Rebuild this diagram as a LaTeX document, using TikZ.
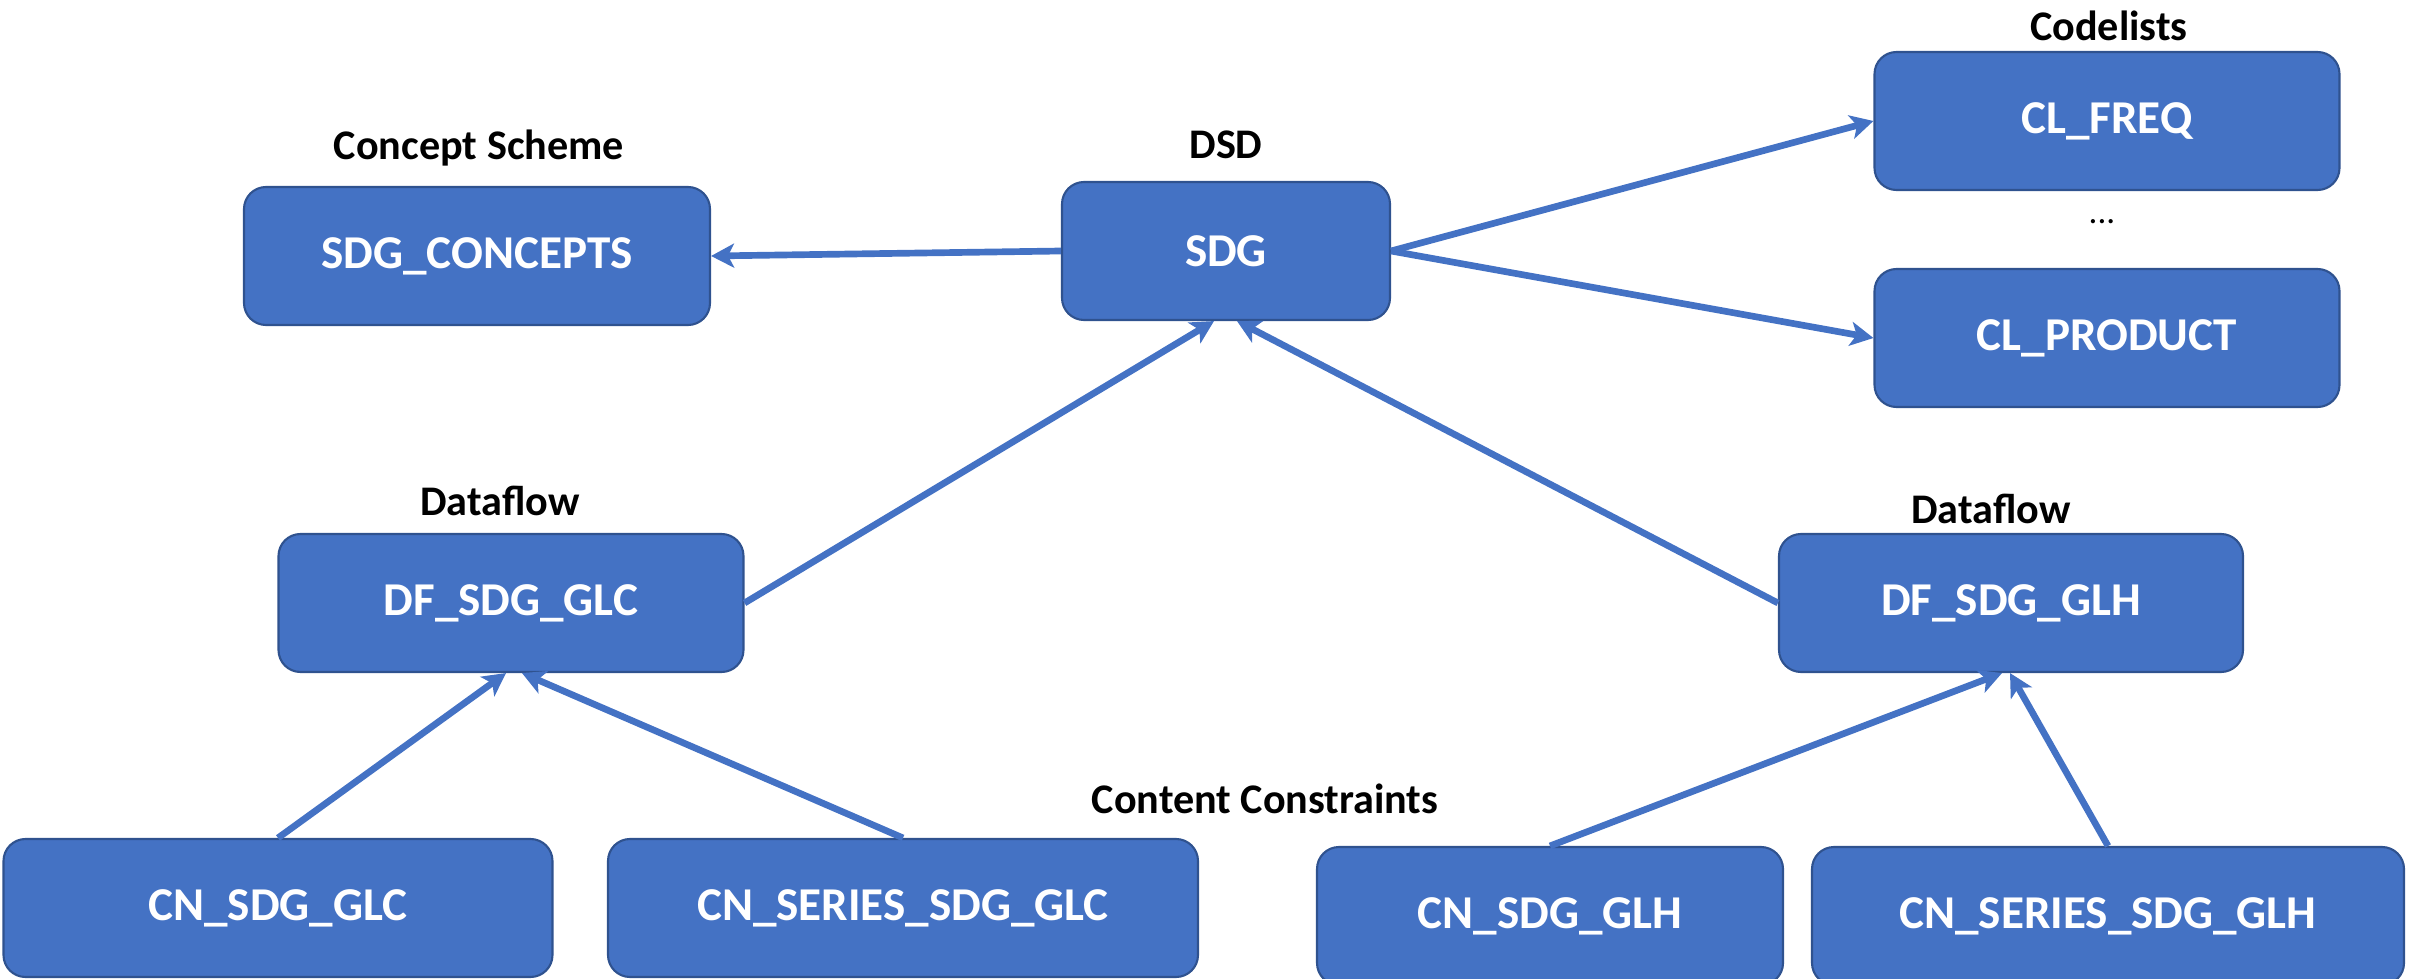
\documentclass[tikz,border=0pt]{standalone}
\usepackage{fontspec}
\setmainfont{Carlito}
\usetikzlibrary{arrows.meta,positioning}
\definecolor{boxfill}{HTML}{4472C4}
\definecolor{boxline}{HTML}{2F528F}
\tikzset{
  box/.style={draw=boxline, line width=0.6pt, fill=boxfill, rounded corners=0.22cm,
    text=white, font=\fontsize{13.4}{16}\selectfont\bfseries, minimum height=1.38cm, inner sep=0pt},
  lbl/.style={font=\fontsize{12}{14}\selectfont\bfseries, text=black, inner sep=0pt},
  conn/.style={draw=boxfill, line width=1.9pt, -{Stealth[length=0.23cm, width=0.24cm, inset=0.06cm]}},
}
\begin{document}
\begin{tikzpicture}
\useasboundingbox (0,0) rectangle (24.1,-9.79);
% boxes
\node[box, minimum width=4.66cm] (concepts) at (4.77,-2.56) {SDG\_CONCEPTS};
\node[box, minimum width=3.28cm] (sdg) at (12.26,-2.51) {SDG};
\node[box, minimum width=4.65cm] (clfreq) at (21.07,-1.21) {CL\_FREQ};
\node[box, minimum width=4.65cm] (clprod) at (21.07,-3.38) {CL\_PRODUCT};
\node[box, minimum width=4.65cm] (dfglc) at (5.11,-6.03) {DF\_SDG\_GLC};
\node[box, minimum width=4.64cm] (dfglh) at (20.11,-6.03) {DF\_SDG\_GLH};
\node[box, minimum width=5.49cm] (cnglc) at (2.78,-9.08) {CN\_SDG\_GLC};
\node[box, minimum width=5.90cm] (cnsglc) at (9.03,-9.08) {CN\_SERIES\_SDG\_GLC};
\node[box, minimum width=4.66cm] (cnglh) at (15.50,-9.16) {CN\_SDG\_GLH};
\node[box, minimum width=5.92cm] (cnsglh) at (21.08,-9.16) {CN\_SERIES\_SDG\_GLH};
% labels
\node[lbl] (lcs) at (4.79,-1.48) {Concept Scheme};
\node[lbl] (ldsd) at (12.26,-1.45) {DSD};
\node[lbl] (lcl) at (21.09,-0.26) {Codelists};
\node[font=\fontsize{10}{12}\selectfont, inner sep=0pt] (ldots) at (21.02,-2.22) {...};
\node[lbl] (ldf1) at (5.00,-5.01) {Dataflow};
\node[lbl] (ldf2) at (19.91,-5.09) {Dataflow};
\node[lbl] (lcc) at (12.65,-7.99) {Content Constraints};
% connectors
\draw[conn] (sdg.west) -- (concepts.east);
\draw[conn] (sdg.east) -- (clfreq.west);
\draw[conn] (sdg.east) -- (clprod.west);
\draw[conn] (dfglc.east) -- ([xshift=-0.12cm]sdg.south);
\draw[conn] (dfglh.west) -- ([xshift=0.11cm]sdg.south);
\draw[conn] (cnglc.north) -- ([xshift=-0.05cm]dfglc.south);
\draw[conn] (cnsglc.north) -- ([xshift=0.11cm]dfglc.south);
\draw[conn] (cnglh.north) -- ([xshift=-0.09cm]dfglh.south);
\draw[conn] (cnsglh.north) -- ([xshift=-0.01cm]dfglh.south);
\end{tikzpicture}
\end{document}
